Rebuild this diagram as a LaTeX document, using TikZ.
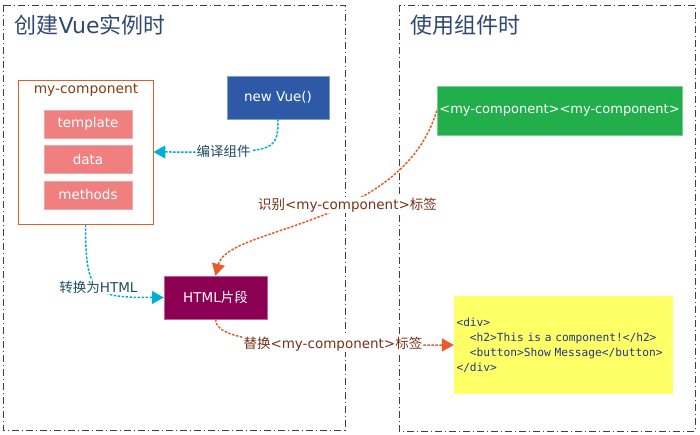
\documentclass[tikz,border=0pt]{standalone}
\usepackage{fontspec}
\setmainfont{DejaVu Sans}
\setmonofont{DejaVu Sans Mono}
\newfontfamily\cjk{Noto Sans CJK SC}
\usetikzlibrary{positioning, arrows.meta}
\definecolor{titleblue}{RGB}{47,72,112}
\definecolor{frameorange}{RGB}{226,96,40}
\definecolor{namebrown}{RGB}{132,60,12}
\definecolor{partred}{RGB}{240,128,128}
\definecolor{vueblue}{RGB}{46,89,167}
\definecolor{tagreen}{RGB}{34,174,74}
\definecolor{htmlred}{RGB}{139,0,82}
\definecolor{codeyellow}{RGB}{255,255,102}
\definecolor{codeblue}{RGB}{32,56,140}
\definecolor{flowcyan}{RGB}{0,176,210}
\definecolor{flowteal}{RGB}{30,78,96}
\definecolor{floworange}{RGB}{232,92,40}
\definecolor{flowbrown}{RGB}{120,50,22}

\begin{document}
\begin{tikzpicture}[x=1pt, y=-1pt,
  panel/.style={draw=black!75, line width=0.8pt, dash pattern=on 7pt off 3pt on 1pt off 3pt},
  heading/.style={anchor=west, text=titleblue, font=\fontsize{22}{26}\selectfont},
  part/.style={rectangle, fill=partred, draw=partred!70!white, text=white, minimum width=88, minimum height=28, inner sep=0pt, font=\fontsize{13.5}{16}\selectfont},
  block/.style={rectangle, text=white, inner sep=0pt, font=\fontsize{13.5}{16}\selectfont},
  flow/.style={line width=1.5pt, dash pattern=on 2.5pt off 1.5pt, -{Triangle[length=12pt, width=13pt]}},
  flowlabel/.style={fill=white, inner sep=1pt, font=\fontsize{13.5}{16}\selectfont}
]
\useasboundingbox (0,0) rectangle (700,435);
% two stages
\draw[panel] (3,5) rectangle (345,430);
\draw[panel] (399,5) rectangle (695,431);
\node[heading] (leftTitle) at (11,25) {{\cjk 创建}Vue{\cjk 实例时}};
\node[heading] (rightTitle) at (407,25) {\cjk 使用组件时};

% component definition
\node[draw=frameorange, line width=0.9pt, minimum width=135, minimum height=144, inner sep=0pt] (comp) at (85.5,152) {};
\node[text=namebrown, font=\fontsize{13.8}{16}\selectfont] (compName) at (86,90) {my-component};
\node[part] (tpl) at (88,124) {template};
\node[part, below=7pt of tpl] (dat) {data};
\node[part, below=7pt of dat] (mth) {methods};

\node[block, fill=vueblue, draw=vueblue!60!white, minimum width=102, minimum height=43] (vue) at (278,97.5) {new Vue()};
\node[block, fill=tagreen, draw=tagreen!60!white, minimum width=245, minimum height=49, font=\fontsize{13}{16}\selectfont] (usage) at (559.5,110.5) {<my-component><my-component>};
\node[block, fill=htmlred, draw=htmlred!60!white, minimum width=103, minimum height=43] (html) at (215.5,297.5) {HTML{\cjk 片段}};
\node[rectangle, fill=codeyellow, text=codeblue, text width=214, align=left, minimum height=98, inner xsep=2.5pt, font=\ttfamily\fontsize{11.2}{15}\selectfont] (code) at (563.5,345) {<div>\\\phantom{xx}<h2>This is a component!</h2>\\\phantom{xx}<button>Show Message</button>\\</div>};

% flows
\draw[flow, flowcyan] (vue.south) .. controls +(0,35) and +(120,0) .. (comp.east) node[pos=0.75, flowlabel, text=flowteal] {\cjk 编译组件};
\draw[flow, flowcyan] (comp.south) .. controls +(0,70) and +(-70,0) .. (html.west) node[pos=0.5, flowlabel, text=flowteal] {{\cjk 转换为}HTML};
\draw[flow, floworange] (usage.west) .. controls (402,228) and (228,226) .. (html.north) node[pos=0.4, flowlabel, text=flowbrown] {{\cjk 识别}<my-component>{\cjk 标签}};
\draw[flow, floworange] (html.south) .. controls +(0,26) and +(-150,0) .. (code.west) node[pos=0.69, flowlabel, text=flowbrown] {{\cjk 替换}<my-component>{\cjk 标签}};
\end{tikzpicture}
\end{document}
